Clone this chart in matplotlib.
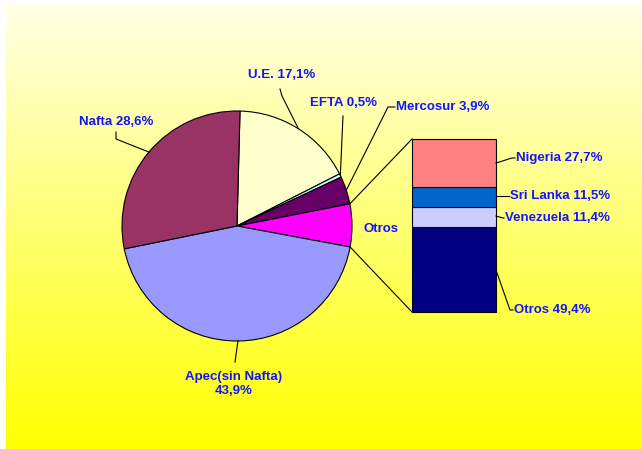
import numpy as np
import matplotlib
matplotlib.use("Agg")
import matplotlib.pyplot as plt

W, H = 642, 449

# pie data (clockwise from the top)
pie_labels = ["U.E.", "EFTA", "Mercosur", "Otros", "Apec(sin Nafta)", "Nafta"]
pie_values = [17.1, 0.5, 3.9, 6.0, 43.9, 28.6]
pie_colors = ["#FFFFCC", "#CCFFFF", "#660066", "#FF00FF", "#9999FF", "#993366"]

# bar of "Otros" (bottom to top)
bar_labels = ["Otros", "Venezuela", "Sri Lanka", "Nigeria"]
bar_values = [49.4, 11.4, 11.5, 27.7]
bar_colors = ["#000080", "#CCCCFF", "#0066CC", "#FF8080"]

TXT = "#1414ff"
plt.rcParams['font.family'] = ['Liberation Sans', 'DejaVu Sans']

def fmt(v):
	return f"{v:.1f}".replace(".", ",") + "%"

def P(y):
	# pixel row -> data y (y up)
	return H - y

fig = plt.figure(figsize=(W/100, H/100), dpi=100)
ax = fig.add_axes([0, 0, 1, 1])

# background gradient, pale at top to yellow at bottom
grad = np.linspace(0, 1, 256)[:, None]
top = np.array([1.0, 1.0, 0.90])
bot = np.array([1.0, 1.0, 0.0])
img = top[None, None, :] * (1 - grad[:, :, None]) + bot[None, None, :] * grad[:, :, None]
ax.imshow(img, extent=[6, W, P(H), P(5)], aspect='auto', zorder=0, origin='upper')

cx, cy, R = 237, P(226), 115
wedges, _ = ax.pie(pie_values, colors=pie_colors, startangle=88.5, counterclock=False,
	center=(cx, cy), radius=R, wedgeprops=dict(edgecolor='black', linewidth=0.8))
for w in wedges:
	w.set_zorder(2)

def edge_pt(w, frac=0.5, r=R):
	a = np.deg2rad(w.theta1 + (w.theta2 - w.theta1) * frac)
	return cx + r*np.cos(a), cy + r*np.sin(a)

# bar
bx0, bx1, btop, bbot = 412, 496, 139, 312
bh = bbot - btop
heights = [v / sum(bar_values) * bh for v in bar_values]
bottoms = np.concatenate([[P(bbot)], P(bbot) + np.cumsum(heights)[:-1]])
ax.bar((bx0+bx1)/2, heights, width=bx1-bx0, bottom=bottoms, color=bar_colors,
	edgecolor='black', linewidth=0.8, zorder=2)

# connectors from Otros wedge to bar
ow = wedges[3]
p1 = edge_pt(ow, 0.0)
p2 = edge_pt(ow, 1.0)
up, lo = (p1, p2) if p1[1] > p2[1] else (p2, p1)
ax.plot([up[0], bx0], [up[1], P(btop)], color='black', lw=0.8, zorder=3)
ax.plot([lo[0], bx0], [lo[1], P(bbot)], color='black', lw=0.8, zorder=3)

fs = 9.5
tk = dict(color=TXT, fontsize=fs, fontweight='bold', zorder=4)

# pie labels: (text x, text y, ha, elbow points)
pie_layout = {
	"U.E.": (282, 75, 'center', [(280, 89), (282, 96)]),
	"EFTA": (343, 103, 'center', [(343, 116)]),
	"Mercosur": (396, 107, 'left', [(395, 107), (388, 107)]),
	"Nafta": (116, 122, 'center', [(116, 132), (116, 139)]),
}
for i, lab in enumerate(pie_labels):
	w = wedges[i]
	if lab in pie_layout:
		tx, ty, ha, elbow = pie_layout[lab]
		ax.text(tx, P(ty), f"{lab} {fmt(pie_values[i])}", ha=ha, va='center', **tk)
		ex, ey = edge_pt(w)
		xs = [p[0] for p in elbow] + [ex]
		ys = [P(p[1]) for p in elbow] + [ey]
		ax.plot(xs, ys, color='black', lw=0.8, zorder=3)
	elif lab == "Apec(sin Nafta)":
		ax.text(234, P(384), f"{lab}\n{fmt(pie_values[i])}", ha='center', va='center',
			linespacing=1.3, **tk)
		ex, ey = edge_pt(w)
		ax.plot([ex, 235], [ey, P(362)], color='black', lw=0.8, zorder=3)
	elif lab == "Otros":
		ax.text(381, P(229), lab, ha='center', va='center', **tk)

# bar labels: (text x, text y, start y on bar, elbow x)
bar_layout = {
	"Nigeria": (516, 158, 163, 512),
	"Sri Lanka": (510, 196, 196, 508),
	"Venezuela": (505, 218, 216, 503),
	"Otros": (514, 310, 270, 510),
}
for i, lab in enumerate(bar_labels):
	tx, ty, sy, elx = bar_layout[lab]
	ax.text(tx, P(ty), f"{lab} {fmt(bar_values[i])}", ha='left', va='center', **tk)
	ax.plot([bx1, elx, tx - 1], [P(sy), P(ty), P(ty)], color='black', lw=0.8, zorder=3)

ax.set_xlim(0, W)
ax.set_ylim(0, H)
ax.set_aspect('auto')
ax.axis('off')
fig.savefig("out.png", dpi=100, facecolor='white')
